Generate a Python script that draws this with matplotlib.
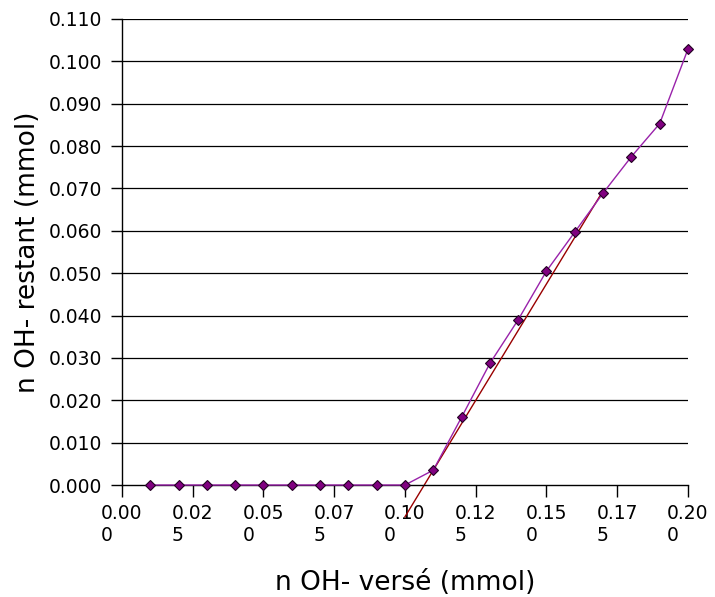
import numpy as np
import matplotlib
matplotlib.use("Agg")
import matplotlib.pyplot as plt

# data
n_verse = [0.01, 0.02, 0.03, 0.04, 0.05, 0.06, 0.07, 0.08, 0.09, 0.10,
           0.11, 0.12, 0.13, 0.14, 0.15, 0.16, 0.17, 0.18, 0.19, 0.20]
n_restant = [0.0, 0.0, 0.0, 0.0, 0.0, 0.0, 0.0, 0.0, 0.0, 0.0,
             0.0035, 0.0160, 0.0287, 0.0390, 0.0505, 0.0597, 0.0689, 0.0775, 0.0853, 0.1029]

# trend line end points
trend_x = [0.1000, 0.1695]
trend_y = [-0.0075, 0.0689]

x_ticks = [0.0, 0.025, 0.05, 0.075, 0.10, 0.125, 0.15, 0.175, 0.20]
x_ticklabels = ["0.00\n0", "0.02\n5", "0.05\n0", "0.07\n5", "0.10\n0",
                "0.12\n5", "0.15\n0", "0.17\n5", "0.20\n0"]
y_ticks = np.arange(0, 0.1101, 0.01)

fig = plt.figure(figsize=(7.15, 5.97), dpi=100)
ax = fig.add_axes([0.1706, 0.1876, 0.7916, 0.7806])

# grid
for yv in y_ticks[1:]:
    ax.axhline(yv, color="black", lw=0.9, zorder=1)

ax.plot(trend_x, trend_y, color="#990000", lw=1, zorder=2, clip_on=False)

ax.plot(n_verse, n_restant, color="#9922aa", lw=1, marker="D", markersize=5,
        markerfacecolor="#800080", markeredgecolor="#220022", markeredgewidth=0.8,
        zorder=3, clip_on=False)

ax.set_xlim(0, 0.20)
ax.set_ylim(0, 0.110)
ax.set_xticks(x_ticks)
ax.set_xticklabels(x_ticklabels, fontsize=13.5, multialignment="left")
ax.set_yticks(y_ticks)
ax.set_yticklabels([f"{v:.3f}" for v in y_ticks], fontsize=13.5)

ax.spines["top"].set_visible(False)
ax.spines["right"].set_visible(False)
for s in ["left", "bottom"]:
    ax.spines[s].set_linewidth(1)
ax.tick_params(axis="x", direction="out", length=8.5, width=1, pad=5)
ax.tick_params(axis="y", direction="out", length=8, width=1, pad=6)

ax.set_xlabel("n OH- versé (mmol)", fontsize=19, labelpad=18)
ax.set_ylabel("n OH- restant (mmol)", fontsize=19, labelpad=6)

fig.savefig("out.png", dpi=100)
